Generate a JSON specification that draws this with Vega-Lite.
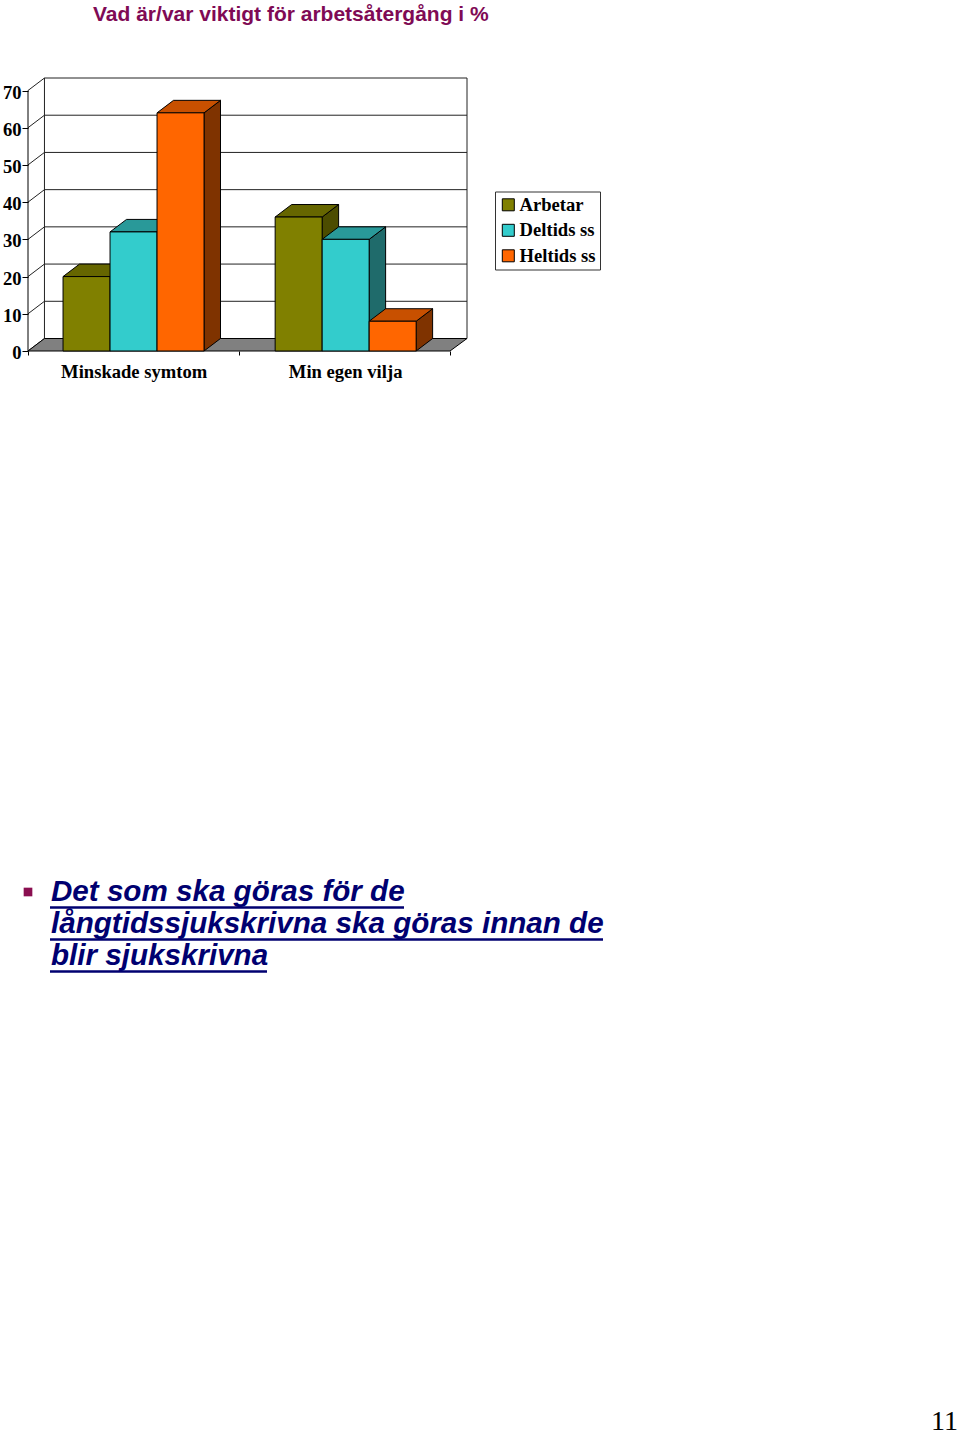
{
  "$schema": "https://vega.github.io/schema/vega-lite/v6.json",
  "background": "white",
  "padding": {"left": 2, "top": 3, "right": 0, "bottom": 0},
  "bounds": "flush",
  "spacing": 525,
  "config": {"view": {"stroke": null}},
  "datasets": {
    "staplar": [
      {"kategori": "Minskade symtom", "serie": "Arbetar", "procent": 20},
      {"kategori": "Minskade symtom", "serie": "Deltids ss", "procent": 32},
      {"kategori": "Minskade symtom", "serie": "Heltids ss", "procent": 64},
      {"kategori": "Min egen vilja", "serie": "Arbetar", "procent": 36},
      {"kategori": "Min egen vilja", "serie": "Deltids ss", "procent": 30},
      {"kategori": "Min egen vilja", "serie": "Heltids ss", "procent": 8}
    ],
    "skala": [{"v": 0}, {"v": 10}, {"v": 20}, {"v": 30}, {"v": 40}, {"v": 50}, {"v": 60}, {"v": 70}],
    "rader": [
      {"rad": 1, "text": "Det som ska göras för de"},
      {"rad": 2, "text": "långtidssjukskrivna ska göras innan de"},
      {"rad": 3, "text": "blir sjukskrivna"}
    ]
  },
  "vconcat": [
    {
      "title": {
        "text": "Vad är/var viktigt för arbetsåtergång i %",
        "font": "Liberation Sans",
        "fontWeight": "bold",
        "fontSize": 21,
        "color": "#7F0A55",
        "anchor": "start",
        "frame": "group",
        "dx": 65,
        "offset": 53
      },
      "width": 439,
      "height": 273,
      "resolve": {"scale": {"color": "independent"}},
      "layer": [
        {
          "data": {"name": "skala"},
          "mark": {"type": "rule", "color": "#222222"},
          "encoding": {
            "x": {
              "datum": 0.078,
              "type": "quantitative",
              "scale": {"domain": [0, 2.08], "nice": false, "zero": false},
              "axis": {"values": [0, 1, 2], "labelExpr": "''", "title": null, "grid": false, "domain": false, "tickSize": 4, "tickColor": "black", "labelPadding": 0}
            },
            "x2": {"datum": 2.08},
            "y": {
              "field": "v",
              "type": "quantitative",
              "scale": {"domain": [0, 73.36], "nice": false},
              "axis": {"values": [0, 10, 20, 30, 40, 50, 60, 70], "tickCount": 8, "labelOverlap": false, "title": null, "grid": false, "domain": false, "tickSize": 6, "tickColor": "black", "labelFont": "Liberation Serif", "labelFontWeight": "bold", "labelFontSize": 18.6, "labelColor": "black", "labelPadding": 1, "labelOffset": 1.5}
            },
            "yOffset": {"value": -12.5}
          }
        },
        {
          "data": {"name": "skala"},
          "transform": [{"calculate": "datum.v + 3.36", "as": "bak"}],
          "mark": {"type": "rule", "color": "#222222"},
          "encoding": {
            "x": {"datum": 0, "type": "quantitative", "title": null},
            "x2": {"datum": 0.078},
            "y": {"field": "v", "type": "quantitative", "title": null},
            "y2": {"field": "bak"}
          }
        },
        {
          "data": {"values": [{"kant": 0.078}, {"kant": 2.08}]},
          "mark": {"type": "rule", "color": "#222222"},
          "encoding": {
            "x": {"field": "kant", "type": "quantitative", "title": null},
            "y": {"datum": 3.36, "type": "quantitative", "title": null},
            "y2": {"datum": 73.36}
          }
        },
        {
          "data": {"values": [{"kant": 0}]},
          "mark": {"type": "rule", "color": "black"},
          "encoding": {
            "x": {"field": "kant", "type": "quantitative", "title": null},
            "y": {"datum": 0, "type": "quantitative", "title": null},
            "y2": {"datum": 70}
          }
        },
        {
          "data": {"values": [{"golv": 0}]},
          "mark": {"type": "point", "filled": true, "opacity": 1, "fill": "#808080", "stroke": "black", "strokeWidth": 1, "size": 4, "shape": "M0,0 L16.5,-12.5 L439,-12.5 L422,0 Z"},
          "encoding": {
            "x": {"field": "golv", "type": "quantitative", "title": null},
            "y": {"field": "golv", "type": "quantitative", "title": null}
          }
        },
        {
          "data": {"name": "staplar"},
          "transform": [
            {"calculate": "indexof(['Minskade symtom','Min egen vilja'], datum.kategori) * 1.005 + 0.166 + indexof(['Arbetar','Deltids ss','Heltids ss'], datum.serie) * 0.2227 + 0.2227", "as": "x1"},
            {"calculate": "[datum.x1, datum.x1 + 0.078]", "as": "sx"},
            {"calculate": "[0, 3.36]", "as": "sy"},
            {"flatten": ["sx", "sy"]},
            {"calculate": "datum.procent + datum.sy", "as": "topp"}
          ],
          "mark": {"type": "area", "stroke": "black", "strokeWidth": 1, "opacity": 1},
          "encoding": {
            "x": {"field": "sx", "type": "quantitative", "title": null},
            "y": {"field": "topp", "type": "quantitative", "title": null},
            "y2": {"field": "sy"},
            "detail": {"field": "kategori"},
            "color": {
              "field": "serie",
              "scale": {"domain": ["Arbetar", "Deltids ss", "Heltids ss"], "range": ["#4C4C00", "#1F6B6B", "#7F3300"]},
              "legend": null
            }
          }
        },
        {
          "data": {"name": "staplar"},
          "transform": [
            {"calculate": "indexof(['Minskade symtom','Min egen vilja'], datum.kategori) * 1.005 + 0.166 + indexof(['Arbetar','Deltids ss','Heltids ss'], datum.serie) * 0.2227", "as": "x0"}
          ],
          "mark": {"type": "point", "filled": true, "opacity": 1, "stroke": "black", "strokeWidth": 1, "size": 4, "shape": "M0,0 L47,0 L63.5,-12.5 L16.5,-12.5 Z"},
          "encoding": {
            "x": {"field": "x0", "type": "quantitative", "title": null},
            "y": {"field": "procent", "type": "quantitative", "title": null},
            "color": {
              "field": "serie",
              "scale": {"domain": ["Arbetar", "Deltids ss", "Heltids ss"], "range": ["#666600", "#299999", "#C85000"]},
              "legend": null
            }
          }
        },
        {
          "data": {"name": "staplar"},
          "transform": [
            {"calculate": "indexof(['Minskade symtom','Min egen vilja'], datum.kategori) * 1.005 + 0.166 + indexof(['Arbetar','Deltids ss','Heltids ss'], datum.serie) * 0.2227", "as": "x0"},
            {"calculate": "datum.x0 + 0.2227", "as": "x1"}
          ],
          "mark": {"type": "bar", "stroke": "black", "strokeWidth": 1},
          "encoding": {
            "x": {"field": "x0", "type": "quantitative", "title": null},
            "x2": {"field": "x1"},
            "y": {"field": "procent", "type": "quantitative", "title": null},
            "y2": {"datum": 0},
            "color": {
              "field": "serie",
              "scale": {"domain": ["Arbetar", "Deltids ss", "Heltids ss"], "range": ["#808000", "#33CCCC", "#FF6600"]},
              "legend": {
                "orient": "none",
                "legendX": 467,
                "legendY": 113.5,
                "title": null,
                "padding": 4,
                "fillColor": "white",
                "strokeColor": "#333333",
                "symbolType": "square",
                "symbolSize": 144,
                "symbolStrokeColor": "black",
                "symbolStrokeWidth": 1,
                "labelFont": "Liberation Serif",
                "labelFontWeight": "bold",
                "labelFontSize": 18.6,
                "labelColor": "black",
                "labelOffset": 2,
                "rowPadding": 6.5
              }
            }
          }
        },
        {
          "data": {"values": [{"kategori": "Minskade symtom", "mitt": 0.503}, {"kategori": "Min egen vilja", "mitt": 1.505}]},
          "mark": {"type": "text", "font": "Liberation Serif", "fontWeight": "bold", "fontSize": 18.6, "color": "black", "dy": 21},
          "encoding": {
            "x": {"field": "mitt", "type": "quantitative", "title": null},
            "y": {"datum": 0, "type": "quantitative", "title": null},
            "text": {"field": "kategori"}
          }
        }
      ]
    },
    {
      "width": 932,
      "height": 558,
      "layer": [
        {
          "data": {"values": [{"punkt": 1}]},
          "mark": {"type": "point", "shape": "square", "filled": true, "opacity": 1, "color": "#8A0F50", "size": 75},
          "encoding": {
            "x": {
              "datum": 0,
              "type": "quantitative",
              "scale": {"domain": [0, 932], "nice": false},
              "axis": null
            },
            "y": {
              "field": "punkt",
              "type": "quantitative",
              "scale": {"domain": [0.5, 17.94], "reverse": true, "nice": false, "zero": false},
              "axis": null
            }
          }
        },
        {
          "data": {"name": "rader"},
          "mark": {"type": "text", "font": "Liberation Sans", "fontWeight": "bold", "fontStyle": "italic", "fontSize": 29.6, "color": "#000070", "align": "left", "baseline": "middle"},
          "encoding": {
            "x": {"datum": 23, "type": "quantitative"},
            "y": {"field": "rad", "type": "quantitative"},
            "text": {"field": "text"}
          }
        },
        {
          "data": {"values": [{"rad": 1}]},
          "mark": {"type": "rule", "color": "#000070", "strokeWidth": 2.5, "yOffset": 15.5},
          "encoding": {"x": {"datum": 22, "type": "quantitative"}, "x2": {"datum": 376}, "y": {"field": "rad", "type": "quantitative"}}
        },
        {
          "data": {"values": [{"rad": 2}]},
          "mark": {"type": "rule", "color": "#000070", "strokeWidth": 2.5, "yOffset": 15.5},
          "encoding": {"x": {"datum": 22, "type": "quantitative"}, "x2": {"datum": 575}, "y": {"field": "rad", "type": "quantitative"}}
        },
        {
          "data": {"values": [{"rad": 3}]},
          "mark": {"type": "rule", "color": "#000070", "strokeWidth": 2.5, "yOffset": 15.5},
          "encoding": {"x": {"datum": 22, "type": "quantitative"}, "x2": {"datum": 239}, "y": {"field": "rad", "type": "quantitative"}}
        },
        {
          "data": {"values": [{"sida": "11"}]},
          "mark": {"type": "text", "font": "Liberation Serif", "fontSize": 28, "color": "black", "align": "right", "baseline": "middle"},
          "encoding": {
            "x": {"datum": 930, "type": "quantitative"},
            "y": {"datum": 17.55, "type": "quantitative"},
            "text": {"field": "sida"}
          }
        }
      ]
    }
  ]
}
